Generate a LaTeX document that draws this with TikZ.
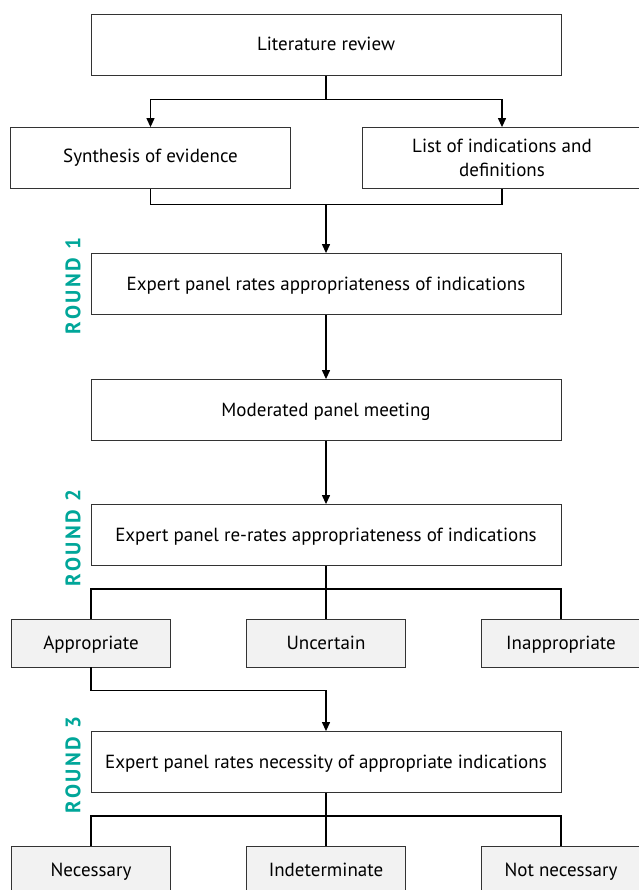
\documentclass[tikz,border=0pt]{standalone}
\usepackage{fontspec}
\setmainfont{PT Sans}
\usetikzlibrary{positioning, arrows.meta}

\definecolor{roundteal}{RGB}{0,166,153}
\definecolor{boxgray}{RGB}{242,242,242}

\begin{document}
\begin{tikzpicture}[
	    x=1pt, y=-1pt,
	    >={Triangle[length=9pt, width=8pt]},
	    every node/.style={font=\fontsize{19}{24}\selectfont, inner sep=0pt},
	    oneline/.style={text height=14pt, text depth=2pt},
	    stage/.style={draw=black!80, line width=0.8pt, minimum width=470pt, minimum height=61pt, align=center, oneline},
	    side/.style={draw=black!80, line width=0.8pt, minimum width=280pt, minimum height=61pt, align=center},
	    outcome/.style={draw=black!80, line width=0.8pt, fill=boxgray, minimum width=159pt, minimum height=48pt, oneline},
	    roundlabel/.style={rotate=90, text=roundteal, font=\fontsize{21}{24}\selectfont\bfseries\addfontfeature{LetterSpace=12}},
	    link/.style={line width=1.2pt},
	    arrow/.style={->, link}
	]
		\useasboundingbox (0,0) rectangle (638,890);

		\node[stage] (lit) at (326, 45) {Literature review};

		\node[side] (synth) at (150.5,158) {Synthesis of evidence};
		\node[side] (list)  at (502,  158) {List of indications and\\definitions};

		\node[stage] (r1)  at (326,284) {Expert panel rates appropriateness of indications};
		\node[stage] (mod) at (326,410) {Moderated panel meeting};
		\node[stage] (r2)  at (326,535) {Expert panel re-rates appropriateness of indications};

		\node[outcome] (app)   at ( 91,643) {Appropriate};
		\node[outcome] (unc)   at (326,643) {Uncertain};
		\node[outcome] (inapp) at (561,643) {Inappropriate};

		\node[stage] (r3) at (326,762) {Expert panel rates necessity of appropriate indications};

		\node[outcome] (nec)    at ( 91,870) {Necessary};
		\node[outcome] (indet)  at (326,870) {Indeterminate};
		\node[outcome] (notnec) at (561,870) {Not necessary};

		\node[roundlabel] (lab1) at (73,286) {ROUND 1};
		\node[roundlabel] (lab2) at (73,538) {ROUND 2};
		\node[roundlabel] (lab3) at (73,765) {ROUND 3};

		\coordinate (join1) at (326,204);

		\draw[arrow] (lit.south) -- ++(0,24) -| (synth.north);
		\draw[arrow] (lit.south) -- ++(0,24) -| (list.north);

		\draw[link] (synth.south) -- ++(0,16) -| (list.south);
		\draw[arrow] (join1) -- (r1.north);

		\draw[arrow] (r1) -- (mod);
		\draw[arrow] (mod) -- (r2);

		\draw[link] (r2.south) -- ++(0,23) -| (app.north);
		\draw[link] (r2.south) -- ++(0,23) -| (inapp.north);
		\draw[link] (r2.south) -- (unc.north);

		\draw[arrow] (app.south) -- ++(0,23) -| (r3.north);

		\draw[link] (r3.south) -- ++(0,23) -| (nec.north);
		\draw[link] (r3.south) -- ++(0,23) -| (notnec.north);
		\draw[link] (r3.south) -- (indet.north);
	\end{tikzpicture}
\end{document}
